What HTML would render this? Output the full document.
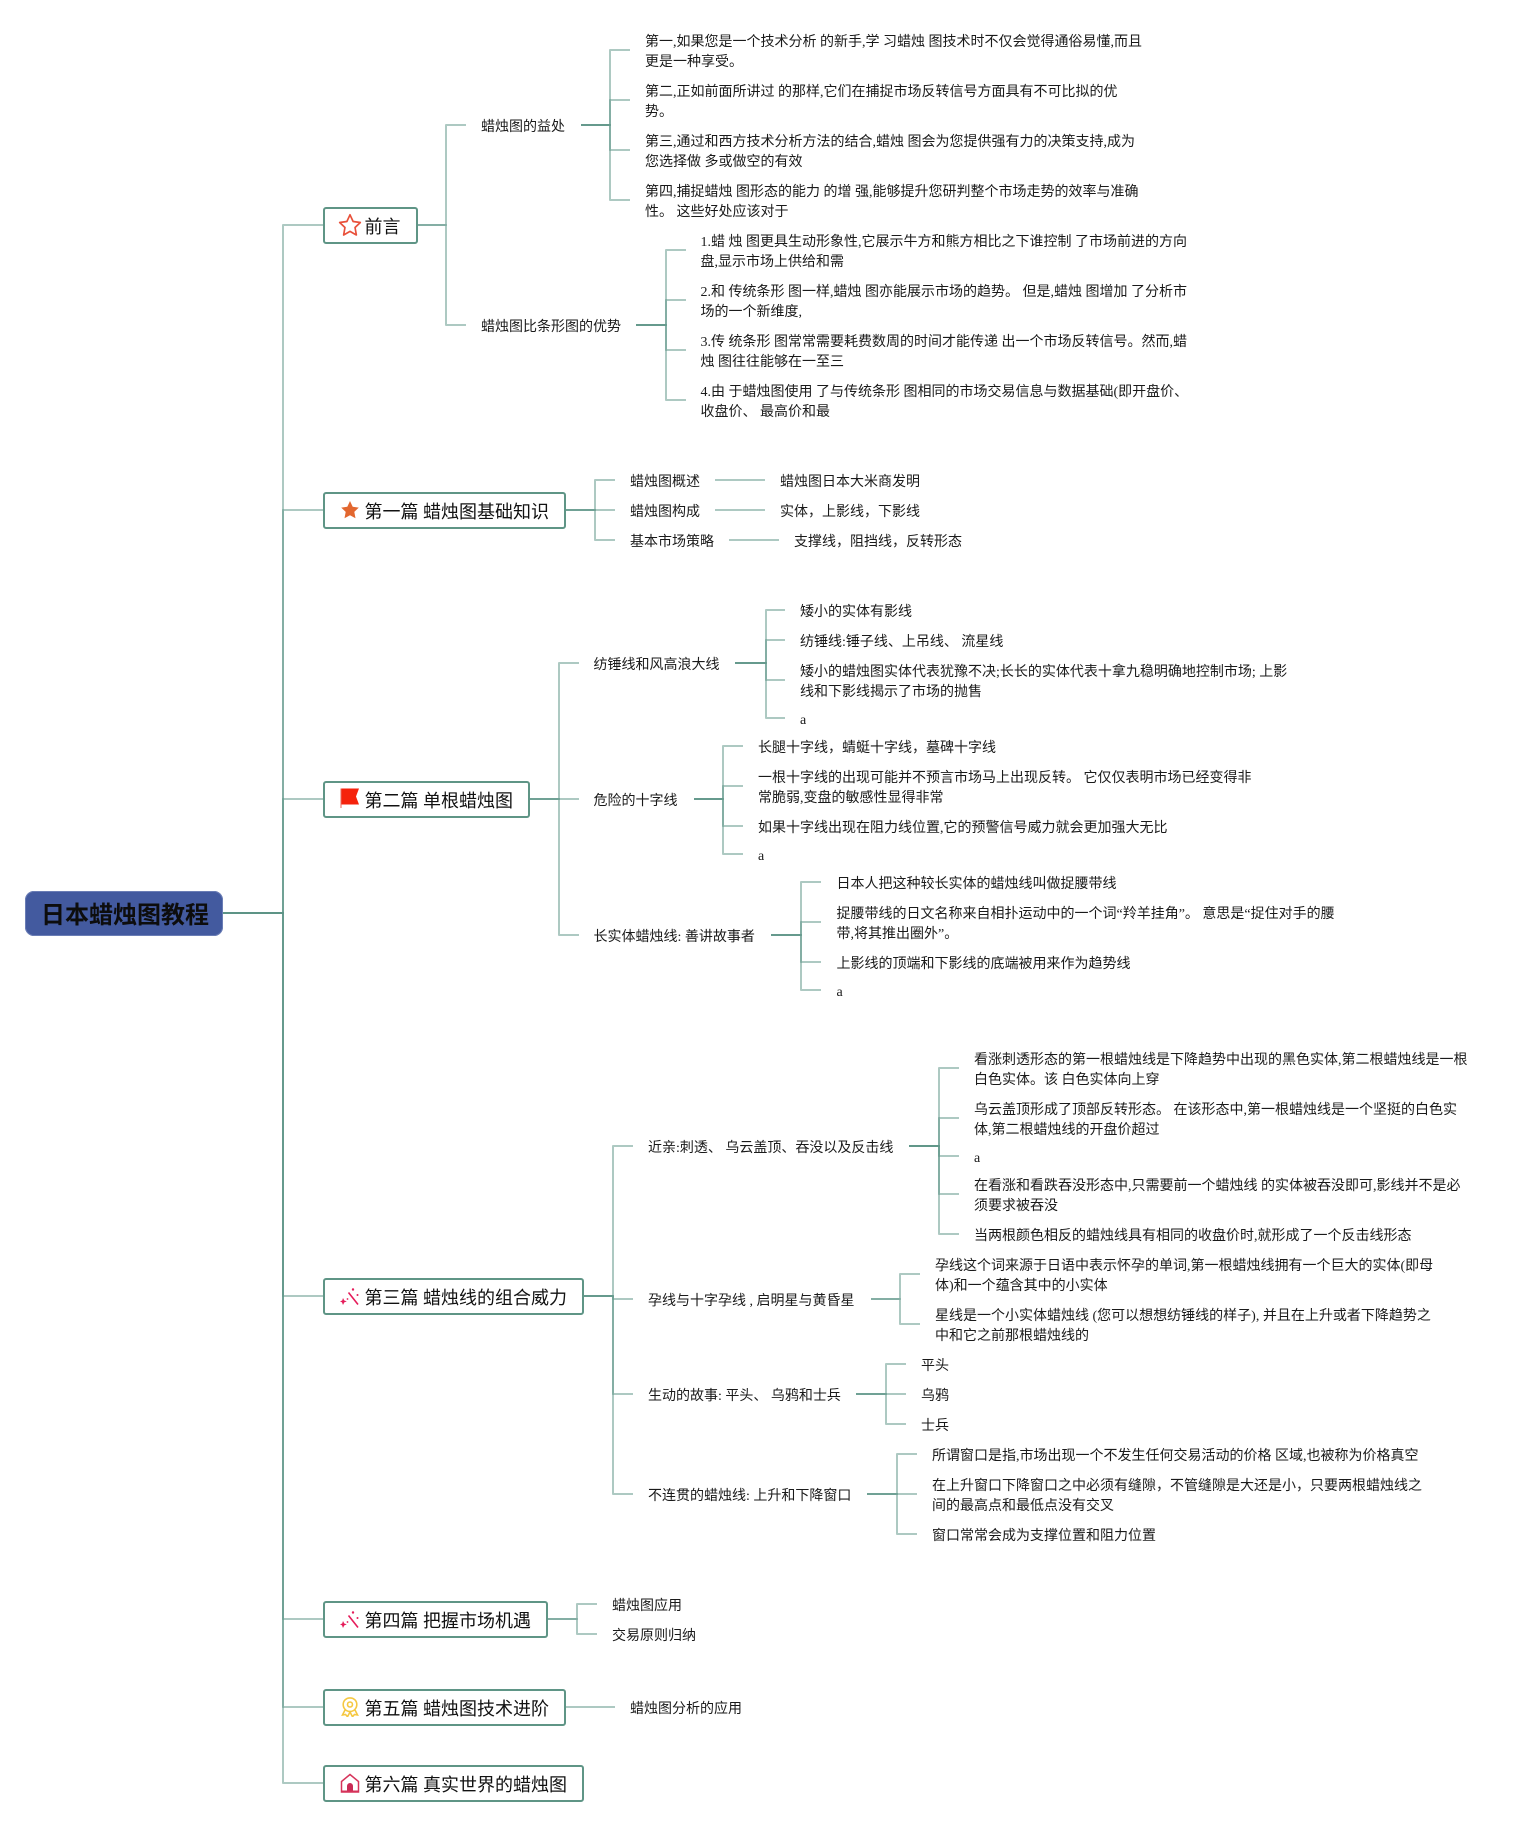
<!DOCTYPE html>
<html lang="zh"><head><meta charset="utf-8"><title>日本蜡烛图教程</title>
<style>
html,body{margin:0;padding:0;background:#fff}
#c{position:relative;width:1534px;height:1826px;overflow:hidden;background:#fff;font-family:"Liberation Serif","Noto Sans CJK SC",serif;color:#111}
.t{position:absolute;font-size:14px;line-height:20px;white-space:pre;color:#1a1a1a;margin-top:2px;margin-left:-1px}
.b{position:absolute;left:322.5px;height:33px;border:2px solid #5f9586;border-radius:3px;background:#fff;box-sizing:content-box}
.h{position:absolute;left:364.5px;font-size:18px;line-height:26px;white-space:pre;color:#111;margin-top:1px}
.i{position:absolute;left:340px;width:20px;height:20px}
#r{position:absolute;left:25px;top:890.5px;width:197.5px;height:45px;background:#435a9f;border-radius:9px;box-shadow:inset 0 0 0 1px #6a7db5}
#rt{position:absolute;left:41px;top:898px;font-size:24px;line-height:36px;font-weight:bold;color:#0d0d0d;white-space:pre;font-family:"Liberation Sans","Noto Sans CJK SC",sans-serif}
svg.l{position:absolute;left:0;top:0}
svg.l path{fill:none;stroke:#5b9485;stroke-width:2;stroke-opacity:.5;stroke-linejoin:round}
</style></head><body><div id="c">
<svg class="l" width="1534" height="1826" viewBox="0 0 1534 1826">
<!-- trunk -->
<path d="M223 913H283V225H323"/><path d="M223 913H283V510H323"/><path d="M223 913H283V799H323"/><path d="M223 913H283V1296H323"/><path d="M223 913H283V1619H323"/><path d="M223 913H283V1707H323"/><path d="M223 913H283V1783H323"/>
<!-- 前言 -->
<path d="M417 225H446V125H466"/><path d="M417 225H446V325H466"/>
<path d="M581 125H610V50H630"/><path d="M581 125H610V100H630"/><path d="M581 125H610V150H630"/><path d="M581 125H610V200H630"/>
<path d="M636 325H666V250H686"/><path d="M636 325H666V300H686"/><path d="M636 325H666V350H686"/><path d="M636 325H666V400H686"/>
<!-- 第一篇 -->
<path d="M565 510H595V480H615"/><path d="M565 510H595V510H615"/><path d="M565 510H595V540H615"/>
<path d="M715 480H765"/><path d="M715 510H765"/><path d="M729 540H779"/>
<!-- 第二篇 -->
<path d="M529 799H559V663H579"/><path d="M529 799H559V799H579"/><path d="M529 799H559V935H579"/>
<path d="M735 663H766V610H785"/><path d="M735 663H766V640H785"/><path d="M735 663H766V680H785"/><path d="M735 663H766V718H785"/>
<path d="M694 799H723V746H743"/><path d="M694 799H723V786H743"/><path d="M694 799H723V826H743"/><path d="M694 799H723V854H743"/>
<path d="M771 935H801V882H821"/><path d="M771 935H801V922H821"/><path d="M771 935H801V962H821"/><path d="M771 935H801V990H821"/>
<!-- 第三篇 -->
<path d="M583 1296H613V1146H633"/><path d="M583 1296H613V1299H633"/><path d="M583 1296H613V1394H633"/><path d="M583 1296H613V1494H633"/>
<path d="M909 1146H939V1068H959"/><path d="M909 1146H939V1118H959"/><path d="M909 1146H939V1156H959"/><path d="M909 1146H939V1194H959"/><path d="M909 1146H939V1234H959"/>
<path d="M871 1299H900V1274H920"/><path d="M871 1299H900V1324H920"/>
<path d="M856 1394H886V1364H906"/><path d="M856 1394H886V1394H906"/><path d="M856 1394H886V1424H906"/>
<path d="M867 1494H897V1454H917"/><path d="M867 1494H897V1494H917"/><path d="M867 1494H897V1534H917"/>
<!-- 第四篇 第五篇 -->
<path d="M547 1619H577V1604H597"/><path d="M547 1619H577V1634H597"/>
<path d="M565 1707H615"/>
</svg>

<div id="r"></div><div id="rt">日本蜡烛图教程</div>

<div class="b" style="top:206.5px;width:91px"></div>
<div class="b" style="top:491.5px;width:239px"></div>
<div class="b" style="top:780.5px;width:203px"></div>
<div class="b" style="top:1277.5px;width:257px"></div>
<div class="b" style="top:1600.5px;width:221px"></div>
<div class="b" style="top:1688.5px;width:239px"></div>
<div class="b" style="top:1764.5px;width:257px"></div>

<svg class="i" style="left:338px;top:213px;width:24px;height:24px" viewBox="0 0 20 20"><path d="M10 1.500l2.600 5.600 6 .8-4.400 4.200 1.100 6.200L10 15.300l-5.300 3 1.100-6.200L1.400 7.900l6-.8z" fill="#fff" stroke="#e8503a" stroke-width="1.400" stroke-linejoin="round"/></svg>
<svg class="i" style="top:500px" viewBox="0 0 20 20"><path d="M10 1l2.700 5.800 6.100.8-4.500 4.300 1.200 6.300L10 15.200l-5.500 3 1.200-6.300L1.200 7.600l6.100-.8z" fill="#e2672f"/></svg>
<svg class="i" style="top:788px" viewBox="0 0 20 20"><path d="M1 .5H19L16 8.500 19 16.500H1.500z" fill="#f5220b"/><rect x="0.500" y=".5" width="1" height="20" fill="#e8665a"/></svg>
<svg class="i" style="top:1287px" viewBox="0 0 20 20"><g fill="#e51c5a"><path d="M8.500 5.500L18 17.500" stroke="#e51c5a" stroke-width="1.600" fill="none"/><path d="M3 11l1.300 2.500 2.500.9-2.500 1-1.300 2.600-1-2.600L0 14.400l2.200-.9z"/><circle cx="13" cy="2.500" r="1.200"/><circle cx="17.500" cy="8" r="1"/><circle cx="7.500" cy="12" r=".9"/></g></svg>
<svg class="i" style="top:1610px" viewBox="0 0 20 20"><g fill="#e51c5a"><path d="M8.500 5.500L18 17.500" stroke="#e51c5a" stroke-width="1.600" fill="none"/><path d="M3 11l1.300 2.500 2.500.9-2.500 1-1.300 2.600-1-2.600L0 14.400l2.200-.9z"/><circle cx="13" cy="2.500" r="1.200"/><circle cx="17.500" cy="8" r="1"/><circle cx="7.500" cy="12" r=".9"/></g></svg>
<svg class="i" style="top:1697px" viewBox="0 0 20 20"><g fill="none" stroke="#f5c842" stroke-width="1.600"><path d="M10 .9c4 0 6.800 2.900 6.800 6.600S14 14.500 10 14.500 3.200 11.200 3.200 7.500 6 .9 10 .9z"/><circle cx="10" cy="7.500" r="2.500"/><path d="M5 13L2.500 18l3-.5 2 2.200L10 15l2.500 4.700 2-2.200 3 .5L15 13"/></g></svg>
<svg class="i" style="top:1773px" viewBox="0 0 20 20"><path d="M1.500 19V8.500L10 1.500l8.500 7V19z" fill="none" stroke="#d6335a" stroke-width="1.500"/><path d="M7 19v-6a3 3 0 0 1 6 0v6z" fill="#c92a55"/><rect x="1" y="17.500" width="18" height="2" fill="#d6335a"/></svg>

<div class="h" style="top:213px">前言</div>
<div class="h" style="top:498px">第一篇 蜡烛图基础知识</div>
<div class="h" style="top:787px">第二篇 单根蜡烛图</div>
<div class="h" style="top:1284px">第三篇 蜡烛线的组合威力</div>
<div class="h" style="top:1607px">第四篇 把握市场机遇</div>
<div class="h" style="top:1695px">第五篇 蜡烛图技术进阶</div>
<div class="h" style="top:1771px">第六篇 真实世界的蜡烛图</div>

<div class="t" style="left:482px;top:116px">蜡烛图的益处</div>
<div class="t" style="left:482px;top:316px">蜡烛图比条形图的优势</div>
<div class="t" style="left:646px;top:31px">第一,如果您是一个技术分析 的新手,学 习蜡烛 图技术时不仅会觉得通俗易懂,而且
更是一种享受。</div>
<div class="t" style="left:646px;top:81px">第二,正如前面所讲过 的那样,它们在捕捉市场反转信号方面具有不可比拟的优
势。</div>
<div class="t" style="left:646px;top:131px">第三,通过和西方技术分析方法的结合,蜡烛 图会为您提供强有力的决策支持,成为
您选择做 多或做空的有效</div>
<div class="t" style="left:646px;top:181px">第四,捕捉蜡烛 图形态的能力 的增 强,能够提升您研判整个市场走势的效率与准确
性。 这些好处应该对于</div>
<div class="t" style="left:701.500px;top:231px">1.蜡 烛 图更具生动形象性,它展示牛方和熊方相比之下谁控制 了市场前进的方向
盘,显示市场上供给和需</div>
<div class="t" style="left:701.500px;top:281px">2.和 传统条形 图一样,蜡烛 图亦能展示市场的趋势。 但是,蜡烛 图增加 了分析市
场的一个新维度,</div>
<div class="t" style="left:701.500px;top:331px">3.传 统条形 图常常需要耗费数周的时间才能传递 出一个市场反转信号。然而,蜡
烛 图往往能够在一至三</div>
<div class="t" style="left:701.500px;top:381px">4.由 于蜡烛图使用 了与传统条形 图相同的市场交易信息与数据基础(即开盘价、
收盘价、 最高价和最</div>

<div class="t" style="left:631px;top:471px">蜡烛图概述</div>
<div class="t" style="left:631px;top:501px">蜡烛图构成</div>
<div class="t" style="left:631px;top:531px">基本市场策略</div>
<div class="t" style="left:781px;top:471px">蜡烛图日本大米商发明</div>
<div class="t" style="left:781px;top:501px">实体，上影线，下影线</div>
<div class="t" style="left:795px;top:531px">支撑线，阻挡线，反转形态</div>

<div class="t" style="left:594.500px;top:654px">纺锤线和风高浪大线</div>
<div class="t" style="left:594.500px;top:790px">危险的十字线</div>
<div class="t" style="left:594.500px;top:926px">长实体蜡烛线: 善讲故事者</div>
<div class="t" style="left:801px;top:601px">矮小的实体有影线</div>
<div class="t" style="left:801px;top:631px">纺锤线:锤子线、上吊线、 流星线</div>
<div class="t" style="left:801px;top:661px">矮小的蜡烛图实体代表犹豫不决;长长的实体代表十拿九稳明确地控制市场; 上影
线和下影线揭示了市场的抛售</div>
<div class="t" style="left:801px;top:709px">a</div>
<div class="t" style="left:759px;top:737px">长腿十字线，蜻蜓十字线，墓碑十字线</div>
<div class="t" style="left:759px;top:767px">一根十字线的出现可能并不预言市场马上出现反转。 它仅仅表明市场已经变得非
常脆弱,变盘的敏感性显得非常</div>
<div class="t" style="left:759px;top:817px">如果十字线出现在阻力线位置,它的预警信号威力就会更加强大无比</div>
<div class="t" style="left:759px;top:845px">a</div>
<div class="t" style="left:837.500px;top:873px">日本人把这种较长实体的蜡烛线叫做捉腰带线</div>
<div class="t" style="left:837.500px;top:903px">捉腰带线的日文名称来自相扑运动中的一个词“羚羊挂角”。 意思是“捉住对手的腰
带,将其推出圈外”。</div>
<div class="t" style="left:837.500px;top:953px">上影线的顶端和下影线的底端被用来作为趋势线</div>
<div class="t" style="left:837.500px;top:981px">a</div>

<div class="t" style="left:649px;top:1137px">近亲:刺透、 乌云盖顶、吞没以及反击线</div>
<div class="t" style="left:649px;top:1290px">孕线与十字孕线 , 启明星与黄昏星</div>
<div class="t" style="left:649px;top:1385px">生动的故事: 平头、 乌鸦和士兵</div>
<div class="t" style="left:649px;top:1485px">不连贯的蜡烛线: 上升和下降窗口</div>
<div class="t" style="left:975px;top:1049px">看涨刺透形态的第一根蜡烛线是下降趋势中出现的黑色实体,第二根蜡烛线是一根
白色实体。该 白色实体向上穿</div>
<div class="t" style="left:975px;top:1099px">乌云盖顶形成了顶部反转形态。 在该形态中,第一根蜡烛线是一个坚挺的白色实
体,第二根蜡烛线的开盘价超过</div>
<div class="t" style="left:975px;top:1147px">a</div>
<div class="t" style="left:975px;top:1175px">在看涨和看跌吞没形态中,只需要前一个蜡烛线 的实体被吞没即可,影线并不是必
须要求被吞没</div>
<div class="t" style="left:975px;top:1225px">当两根颜色相反的蜡烛线具有相同的收盘价时,就形成了一个反击线形态</div>
<div class="t" style="left:936px;top:1255px">孕线这个词来源于日语中表示怀孕的单词,第一根蜡烛线拥有一个巨大的实体(即母
体)和一个蕴含其中的小实体</div>
<div class="t" style="left:936px;top:1305px">星线是一个小实体蜡烛线 (您可以想想纺锤线的样子), 并且在上升或者下降趋势之
中和它之前那根蜡烛线的</div>
<div class="t" style="left:922px;top:1355px">平头</div>
<div class="t" style="left:922px;top:1385px">乌鸦</div>
<div class="t" style="left:922px;top:1415px">士兵</div>
<div class="t" style="left:933px;top:1445px">所谓窗口是指,市场出现一个不发生任何交易活动的价格 区域,也被称为价格真空</div>
<div class="t" style="left:933px;top:1475px">在上升窗口下降窗口之中必须有缝隙，不管缝隙是大还是小，只要两根蜡烛线之
间的最高点和最低点没有交叉</div>
<div class="t" style="left:933px;top:1525px">窗口常常会成为支撑位置和阻力位置</div>

<div class="t" style="left:613px;top:1595px">蜡烛图应用</div>
<div class="t" style="left:613px;top:1625px">交易原则归纳</div>
<div class="t" style="left:631px;top:1698px">蜡烛图分析的应用</div>
</div></body></html>
